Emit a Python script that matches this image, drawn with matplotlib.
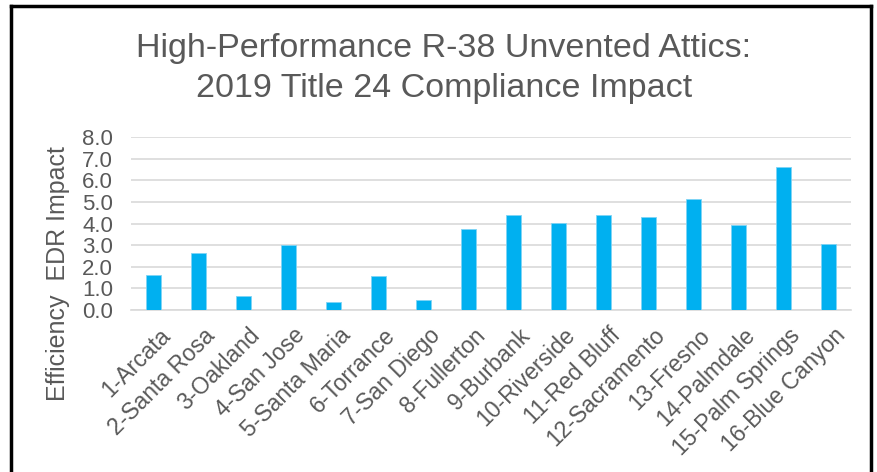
import matplotlib
matplotlib.use("Agg")
import matplotlib.pyplot as plt
from matplotlib.lines import Line2D
from matplotlib.transforms import ScaledTranslation

plt.rcParams['font.family'] = ['Liberation Sans', 'DejaVu Sans']

# Climate zones and their efficiency EDR impact
zones = ['1-Arcata', '2-Santa Rosa', '3-Oakland', '4-San Jose', '5-Santa Maria',
         '6-Torrance', '7-San Diego', '8-Fullerton', '9-Burbank', '10-Riverside',
         '11-Red Bluff', '12-Sacramento', '13-Fresno', '14-Palmdale',
         '15-Palm Springs', '16-Blue Canyon']
edr_impact = [1.6, 2.65, 0.65, 3.0, 0.37, 1.57, 0.46, 3.76,
              4.38, 4.01, 4.38, 4.29, 5.15, 3.95, 6.63, 3.06]
y_ticks = [0, 1, 2, 3, 4, 5, 6, 7, 8]

text_color = '#595959'
bar_color = '#00B0F0'

W, H = 877, 472
fig = plt.figure(figsize=(W / 100, H / 100), dpi=100, facecolor='white')
ax = fig.add_axes([131 / W, 1 - 310 / H, 720 / W, 173 / H])

x = range(len(zones))
ax.bar(x, edr_impact, width=0.33, color=bar_color, edgecolor='#7fd4f5',
       linewidth=0.6, zorder=3)

ax.set_xlim(-0.5, len(zones) - 0.5)
ax.set_ylim(0, 8)
ax.set_yticks(y_ticks)
ax.set_yticklabels([f'{v:.1f}' for v in y_ticks], fontsize=16, color=text_color)
ax.set_xticks(list(x))
ax.set_xticklabels(zones, rotation=45, ha='right', rotation_mode='anchor',
                   fontsize=16.5, color=text_color)
ax.tick_params(axis='x', length=0, pad=10)
ax.tick_params(axis='y', length=0, pad=13)

# nudge the slanted labels a little to the right, as in the original
shift = ScaledTranslation(5 / 100, 0, fig.dpi_scale_trans)
for lbl in ax.get_xticklabels():
    lbl.set_transform(lbl.get_transform() + shift)

ax.grid(axis='y', color='#d9d9d9', linewidth=1.2, zorder=0)
for side in ['top', 'right', 'left']:
    ax.spines[side].set_visible(False)
ax.spines['bottom'].set_color('#d9d9d9')
ax.spines['bottom'].set_linewidth(1.2)

fig.text(58 / W, 1 - 274 / H, 'Efficiency  EDR Impact', rotation=90,
         ha='center', va='center', fontsize=18, color=text_color)

fig.text(444 / W, 1 - 49 / H, 'High-Performance R-38 Unvented Attics:',
         ha='center', va='center', fontsize=24.5, color=text_color)
fig.text(444 / W, 1 - 89 / H, '2019 Title 24 Compliance Impact',
         ha='center', va='center', fontsize=24.5, color=text_color)

# outer frame, open at the bottom
frame = dict(color='black', linewidth=2.5, transform=fig.transFigure)
fig.add_artist(Line2D([11 / W, 11 / W], [0, 1 - 6 / H], **frame))
fig.add_artist(Line2D([11 / W, 871 / W], [1 - 6 / H, 1 - 6 / H], **frame))
fig.add_artist(Line2D([871 / W, 871 / W], [0, 1 - 6 / H], **frame))

fig.savefig('out.png', dpi=100, facecolor='white')
